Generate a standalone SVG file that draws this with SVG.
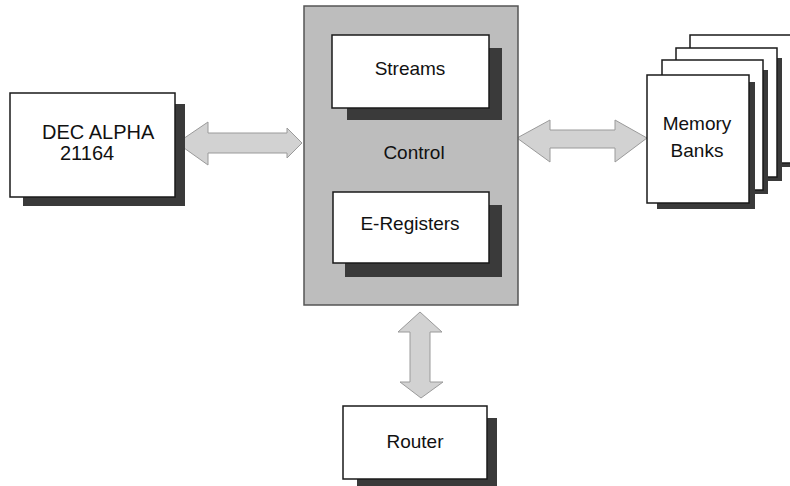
<svg xmlns="http://www.w3.org/2000/svg" width="790" height="486" viewBox="0 0 790 486">
<style>
.box{fill:#ffffff;stroke:#1a1a1a;stroke-width:1.5}
.shadow{fill:#3a3a3a}
.lbl{font-family:"Liberation Sans",Arial,sans-serif;font-size:19px;fill:#111;text-anchor:middle}
.arrow{fill:#d2d2d2;stroke:#9a9a9a;stroke-width:1}
.panel{fill:#bdbdbd;stroke:#555;stroke-width:1.5}
</style>
<rect width="790" height="486" fill="#ffffff"/>
<g id="connectors">
  <path class="arrow" d="M177,143 L208,122 L208,133 L287,133 L287,128 L302,143 L287,158 L287,153 L208,153 L208,165 Z"/>
  <path class="arrow" d="M517,138 L550,120 L550,130 L615,130 L615,120 L647,138 L615,162 L615,148 L550,148 L550,162 Z"/>
  <path class="arrow" d="M420,312 L442,332 L430,332 L430,382 L443,382 L421,398 L400,382 L410,382 L410,332 L398,332 Z"/>
</g>
<g id="control">
  <rect class="panel" x="304" y="6" width="214" height="299"/>
  <text class="lbl" x="414" y="159">Control</text>
</g>
<g id="streams">
  <rect class="shadow" x="347" y="48" width="155" height="72"/>
  <rect class="box" x="332" y="35" width="157" height="73"/>
  <text class="lbl" x="410" y="75">Streams</text>
</g>
<g id="eregisters">
  <rect class="shadow" x="345" y="205" width="157" height="72"/>
  <rect class="box" x="333" y="192" width="156" height="71"/>
  <text class="lbl" x="410" y="230">E-Registers</text>
</g>
<g id="dec-alpha">
  <rect class="shadow" x="23" y="104" width="162" height="102"/>
  <rect class="box" x="10" y="93" width="165" height="104"/>
  <text class="lbl" x="42" y="139" style="text-anchor:start;font-size:20px">DEC ALPHA</text>
  <text class="lbl" x="60" y="160" style="text-anchor:start;font-size:20px">21164</text>
</g>
<g id="memory-banks">
  <rect class="shadow" x="700" y="45" width="95" height="122"/>
  <rect class="box" x="690" y="35" width="105" height="128"/>
  <rect class="shadow" x="686" y="58" width="96" height="123"/>
  <rect class="box" x="676" y="48" width="101" height="129"/>
  <rect class="shadow" x="672" y="70" width="96" height="124"/>
  <rect class="box" x="662" y="60" width="101" height="130"/>
  <rect class="shadow" x="657" y="82" width="98" height="127"/>
  <rect class="box" x="647" y="75" width="102" height="128"/>
  <text class="lbl" x="697" y="130">Memory</text>
  <text class="lbl" x="697" y="157">Banks</text>
</g>
<g id="router">
  <rect class="shadow" x="357" y="418" width="140" height="70"/>
  <rect class="box" x="343" y="406" width="144" height="73"/>
  <text class="lbl" x="415" y="448">Router</text>
</g>
</svg>
